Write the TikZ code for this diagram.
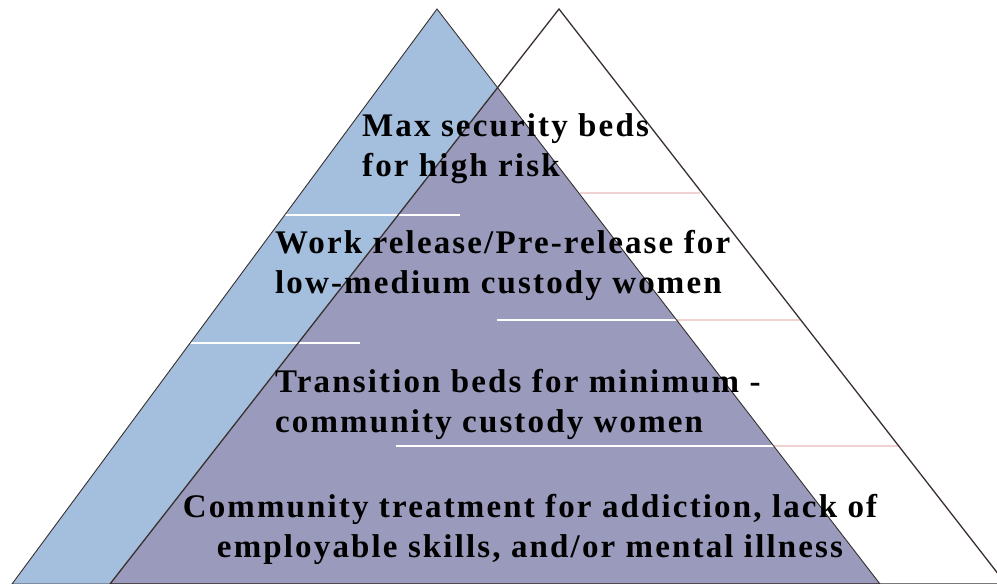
\documentclass[tikz,border=0pt]{standalone}
\usepackage{fontspec}
\setmainfont{Liberation Serif}
\newfontfamily\tierfont{Liberation Serif}[LetterSpace=6.5]
\usepackage{xcolor}
\usetikzlibrary{positioning}

\definecolor{tierblue}{HTML}{A4BFDD}
\definecolor{overlap}{HTML}{9A9ABC}
\definecolor{edgedark}{HTML}{3A3030}
\definecolor{rulepink}{HTML}{F0D2D2}

\tikzset{
    tiertext/.style={inner sep=0pt, font=\tierfont\fontsize{33}{40}\selectfont\bfseries},
    divider/.style={line width=1.6pt, white},
    dividerpink/.style={line width=1.6pt, rulepink}
}

\begin{document}
\begin{tikzpicture}[x=1pt, y=1pt]
    \useasboundingbox (0,0) rectangle (997,584);
    % corners of the two triangles
    \coordinate (la) at (437,575);
    \coordinate (ll) at (12,0);
    \coordinate (lr) at (880,0);
    \coordinate (ra) at (559,575);
    \coordinate (rl) at (110,0);
    \coordinate (rr) at (1006,0);

    % fills
    \fill[white] (ra) -- (rl) -- (rr) -- cycle;
    \fill[tierblue] (la) -- (ll) -- (lr) -- cycle;
    \begin{scope}
        \clip (la) -- (ll) -- (lr) -- cycle;
        \fill[overlap] (ra) -- (rl) -- (rr) -- cycle;
    \end{scope}

    % dividers
    \draw[divider] (283,369) -- (460,369);
    \draw[divider] (188,241) -- (360,241);
    \draw[dividerpink] (580,391) -- (700,391);
    \draw[dividerpink] (497,264) -- (800,264);
    \draw[dividerpink] (396,138) -- (900,138);
    \begin{scope}
        \clip (la) -- (ll) -- (lr) -- cycle;
        \draw[divider] (497,264) -- (800,264);
        \draw[divider] (396,138) -- (900,138);
    \end{scope}

    % outlines
    \draw[edgedark, line width=0.9pt] (la) -- (ll) -- (lr) -- cycle;
    \draw[edgedark, line width=1.3pt] (ra) -- (rl) -- (rr) -- cycle;

    % tiers, top to bottom
    \node[tiertext, anchor=west, align=left] (tier1) at (362,435)
        {Max security beds\\for high risk};
    \node[tiertext, anchor=west, align=left] (tier2) at (275,319)
        {Work release/Pre-release for\\low-medium custody women};
    \node[tiertext, anchor=west, align=left] (tier3) at (275,180)
        {Transition beds for minimum -\\community custody women};
    \node[tiertext, align=center] (tier4) at (530,54.5)
        {Community treatment for addiction, lack of\\employable skills, and/or mental illness};
\end{tikzpicture}
\end{document}
